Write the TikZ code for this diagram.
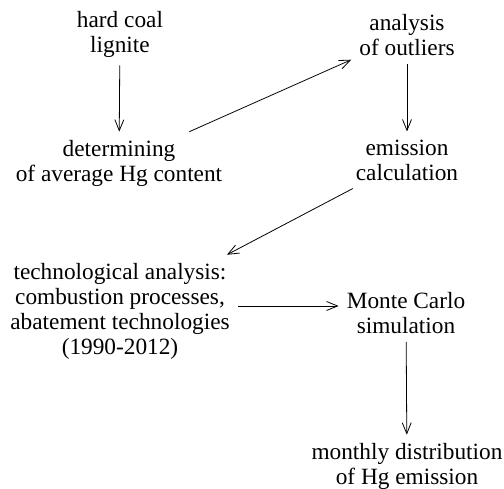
\documentclass[tikz,border=0pt]{standalone}
\usepackage{fontspec}
\setmainfont{Liberation Serif}
\usetikzlibrary{arrows.meta}

\begin{document}
\begin{tikzpicture}[
  x=1pt,y=-1pt,
  every node/.style={align=center,inner sep=8pt,font=\fontsize{23.3}{25}\selectfont},
  to/.style={-{Straight Barb[length=11pt,width=9pt]},line width=0.8pt}]

  \useasboundingbox (0,0) rectangle (504,489);

  % Position the nodes
  \node (hard_coal) at (120,34) {hard coal\\lignite};
  \node (avg_content) at (119,163) {determining\\of average Hg content};
  \node (outliers) at (407,35) {analysis\\of outliers};
  \node (emission) at (407,160) {emission\\calculation};
  \node (techno) at (120,311) {technological analysis:\\combustion processes,\\abatement technologies\\(1990-2012)};
  \node (monte_carlo) at (406,313) {Monte Carlo\\simulation};
  \node (monthly) at (407,466) {monthly distribution\\of Hg emission};

  % Draw the arrows between the nodes
  \draw[to] (hard_coal) -- (avg_content);
  \draw[to] (avg_content) -- (outliers);
  \draw[to] (outliers) -- (emission);
  \draw[to] (emission) -- (techno);
  \draw[to] ([yshift=5pt]techno.east) -- ([yshift=5pt]techno.east -| monte_carlo.west);
  \draw[to] (monte_carlo) -- (monthly);
\end{tikzpicture}
\end{document}
